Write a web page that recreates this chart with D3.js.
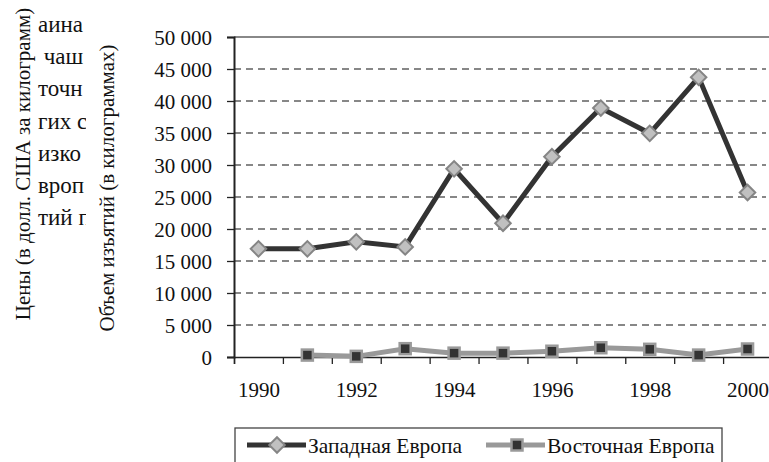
<!DOCTYPE html>
<html>
<head>
<meta charset="utf-8">
<script src="https://cdn.jsdelivr.net/npm/d3@7"></script>
<style>
  body { margin: 0; background: #fff; }
  svg text { font-family: "Liberation Serif", "Times New Roman", Times, serif !important; fill: #111; }
</style>
</head>
<body>
<script>
'use strict';

// years on the category axis
let years = [1990, 1991, 1992, 1993, 1994, 1995, 1996, 1997, 1998, 1999, 2000];
let yearLabels = [1990, 1992, 1994, 1996, 1998, 2000];

// seizures, kg
let westEurope = [16900, 16900, 18000, 17200, 29400, 20900, 31300, 38900, 34950, 43700, 25700];
let eastEurope = [null, 300, 100, 1300, 600, 600, 900, 1450, 1200, 300, 1250];

let yTicks = [0, 5000, 10000, 15000, 20000, 25000, 30000, 35000, 40000, 45000, 50000];

let seriesNames = ['Западная Европа', 'Восточная Европа'];

// bits of document text showing through on the left
let bgText = ['аина', ' чаш', 'точн', 'гих с', 'изко', 'вроп', 'тий п'];

let svgWidth = 769, svgHeight = 462;
let plot = { left: 234, right: 772, top: 37, bottom: 357 };
let serif = '"Liberation Serif", "Times New Roman", serif';

let chart = d3.select('body').append('svg')
  .attr('width', svgWidth)
  .attr('height', svgHeight)
  .style('font-family', serif);

// background fragments, clipped
chart.append('clipPath').attr('id', 'bgclip')
  .append('rect').attr('x', 37).attr('y', 0).attr('width', 49).attr('height', 240);
chart.append('g').attr('clip-path', 'url(#bgclip)')
  .selectAll('text').data(bgText).enter().append('text')
  .attr('x', 38).attr('y', (d, i) => 32 + i * 32.2)
  .attr('font-size', 23)
  .attr('xml:space', 'preserve')
  .text(d => d);

let xScale = d3.scaleLinear()
  .domain([years[0] - 0.5, years[years.length - 1] + 0.5])
  .range([plot.left, plot.right]);

let yScale = d3.scaleLinear()
  .domain([0, 50000])
  .range([plot.bottom, plot.top]);

let fmt = d => d3.format(',')(d).replace(/,/g, ' ');

// dashed grid
chart.append('g').selectAll('line').data(yTicks.filter(d => d > 0 && d < 50000)).enter().append('line')
  .attr('x1', plot.left).attr('x2', 766)
  .attr('y1', d => yScale(d)).attr('y2', d => yScale(d))
  .attr('stroke', '#111').attr('stroke-width', 1.1).attr('stroke-dasharray', '7,5');

// top border
chart.append('line')
  .attr('x1', plot.left).attr('x2', svgWidth)
  .attr('y1', yScale(50000)).attr('y2', yScale(50000))
  .attr('stroke', '#888').attr('stroke-width', 2);

// y axis
let yAxis = chart.append('g')
  .attr('transform', `translate(${plot.left},0)`)
  .call(d3.axisLeft(yScale).tickValues(yTicks).tickSize(7).tickPadding(15).tickFormat(fmt));
yAxis.attr('font-family', null);
yAxis.select('.domain').attr('stroke', '#222').attr('stroke-width', 2);
yAxis.selectAll('.tick line').attr('stroke', '#222').attr('stroke-width', 1.3);
yAxis.selectAll('text').attr('font-size', 21).attr('dy', '0.36em').attr('fill', '#111');

// x axis: ticks between categories
let boundaries = d3.range(years[0] - 0.5, years[years.length - 1] + 1, 1);
let xAxis = chart.append('g')
  .attr('transform', `translate(0,${plot.bottom})`)
  .call(d3.axisBottom(xScale).tickValues(boundaries).tickSize(7).tickFormat(''));
xAxis.select('.domain').attr('stroke', '#222').attr('stroke-width', 1.5);
xAxis.selectAll('.tick line').attr('stroke', '#222').attr('stroke-width', 1.3);

let xLabels = chart.append('g')
  .attr('transform', `translate(0,${plot.bottom})`)
  .call(d3.axisBottom(xScale).tickValues(yearLabels).tickSize(0).tickFormat(d3.format('d')));
xLabels.attr('font-family', null);
xLabels.select('.domain').remove();
xLabels.selectAll('text').attr('y', 40).attr('dy', 0)
  .attr('font-size', 21).attr('fill', '#111');

// axis titles
chart.append('text')
  .attr('transform', 'translate(30,164) rotate(-90)')
  .attr('text-anchor', 'middle')
  .attr('font-size', 21)
  .text('Цены (в долл. США за килограмм)');

chart.append('text')
  .attr('transform', 'translate(114,188) rotate(-90)')
  .attr('text-anchor', 'middle')
  .attr('font-size', 21)
  .text('Объем изъятий (в килограммах)');

let lineGen = d3.line()
  .defined(d => d[1] != null)
  .x(d => xScale(d[0]))
  .y(d => yScale(d[1]));

let westData = years.map((y, i) => [y, westEurope[i]]);
let eastData = years.map((y, i) => [y, eastEurope[i]]);

let diamond = d3.symbol().type(d3.symbolSquare).size(120);

function drawDiamond(g) {
  g.attr('d', diamond).attr('fill', '#c0c0c0').attr('stroke', '#858585').attr('stroke-width', 2);
}
function drawSquare(g) {
  g.attr('x', -5.5).attr('y', -5.5).attr('width', 11).attr('height', 11)
    .attr('fill', '#333').attr('stroke', '#9a9a9a').attr('stroke-width', 2.5);
}

// east line
chart.append('path').datum(eastData)
  .attr('fill', 'none').attr('stroke', '#999').attr('stroke-width', 5)
  .attr('d', lineGen);

// west line
chart.append('path').datum(westData)
  .attr('fill', 'none').attr('stroke', '#333').attr('stroke-width', 5)
  .attr('d', lineGen);

chart.append('g').selectAll('path').data(westData).enter().append('path')
  .attr('transform', d => `translate(${xScale(d[0])},${yScale(d[1])}) rotate(45)`)
  .call(drawDiamond);

chart.append('g').selectAll('g').data(eastData.filter(d => d[1] != null)).enter().append('g')
  .attr('transform', d => `translate(${xScale(d[0])},${yScale(d[1])})`)
  .append('rect').call(drawSquare);

// legend
let legend = chart.append('g');
legend.append('rect')
  .attr('x', 235).attr('y', 428).attr('width', 487).attr('height', 50)
  .attr('fill', '#fff').attr('stroke', '#444').attr('stroke-width', 1.3);

let legendItems = [
  { name: seriesNames[0], x0: 247, color: '#333' },
  { name: seriesNames[1], x0: 486, color: '#999' }
];
let ly = 445;
legendItems.forEach((it, i) => {
  legend.append('line')
    .attr('x1', it.x0).attr('x2', it.x0 + 59)
    .attr('y1', ly).attr('y2', ly)
    .attr('stroke', it.color).attr('stroke-width', 5);
  if (i === 0) {
    legend.append('path')
      .attr('transform', `translate(${it.x0 + 30},${ly}) rotate(45)`)
      .call(drawDiamond);
  } else {
    legend.append('g')
      .attr('transform', `translate(${it.x0 + 31},${ly})`)
      .append('rect').call(drawSquare);
  }
  legend.append('text')
    .attr('x', it.x0 + 61).attr('y', ly + 8)
    .attr('font-size', 21.5)
    .text(it.name);
});
</script>
</body>
</html>
